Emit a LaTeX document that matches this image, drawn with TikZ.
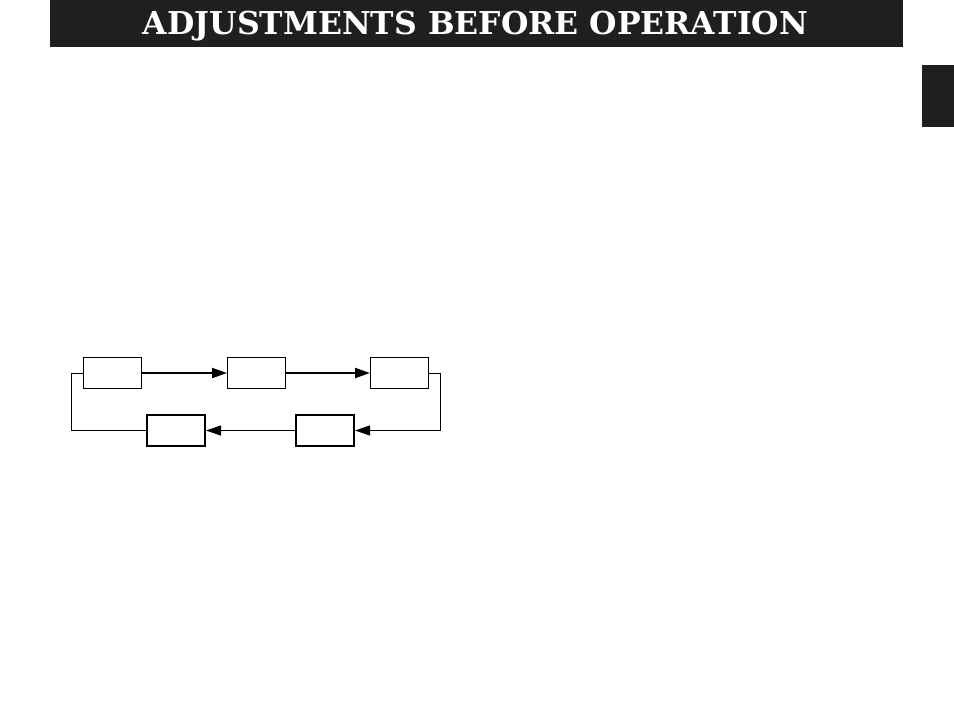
\documentclass[tikz,border=0pt]{standalone}
\usepackage{fontspec}
\setmainfont{Liberation Serif}
\newfontfamily\titlefont{DejaVu Serif}
\usetikzlibrary{arrows.meta}
\tikzset{
    step-box/.style = {draw, line width=1pt, rectangle, minimum width=58pt, minimum height=31pt, inner sep=0pt},
    step-box-bold/.style = {step-box, line width=2pt},
    title-bar/.style = {fill=black!88, draw=none},
    flow/.style = {-{Triangle[length=15pt,width=10pt]}},
}
\begin{document}
\begin{tikzpicture}[x=1pt,y=-1pt]
\useasboundingbox (0,0) rectangle (954,716);
\fill[title-bar] (50,0) rectangle (903,47);
\node[text=white, inner sep=0pt, font=\titlefont\bfseries\fontsize{31.5}{32}\selectfont] (title) at (475.5,26) {ADJUSTMENTS BEFORE OPERATION};
\fill[black!88] (922,65) rectangle (954,127);

\node[step-box] (s1) at (112.5,373) {};
\node[step-box] (s2) at (256.5,373) {};
\node[step-box] (s3) at (399.5,373) {};
\node[step-box-bold] (s4) at (325,430.5) {};
\node[step-box-bold] (s5) at (176,430.5) {};

\draw[flow, line width=2pt] (s1) -- (s2);
\draw[flow, line width=2pt] (s2) -- (s3);
\draw[flow, line width=1pt] ([yshift=-0.5pt]s3.east) -| (440.5,430.5) -- (s4.east);
\draw[flow, line width=1pt] (s4) -- (s5);
\draw[line width=1pt] (s5.west) -| (71.5,373.5) -- ([yshift=-0.5pt]s1.west);
\end{tikzpicture}
\end{document}
